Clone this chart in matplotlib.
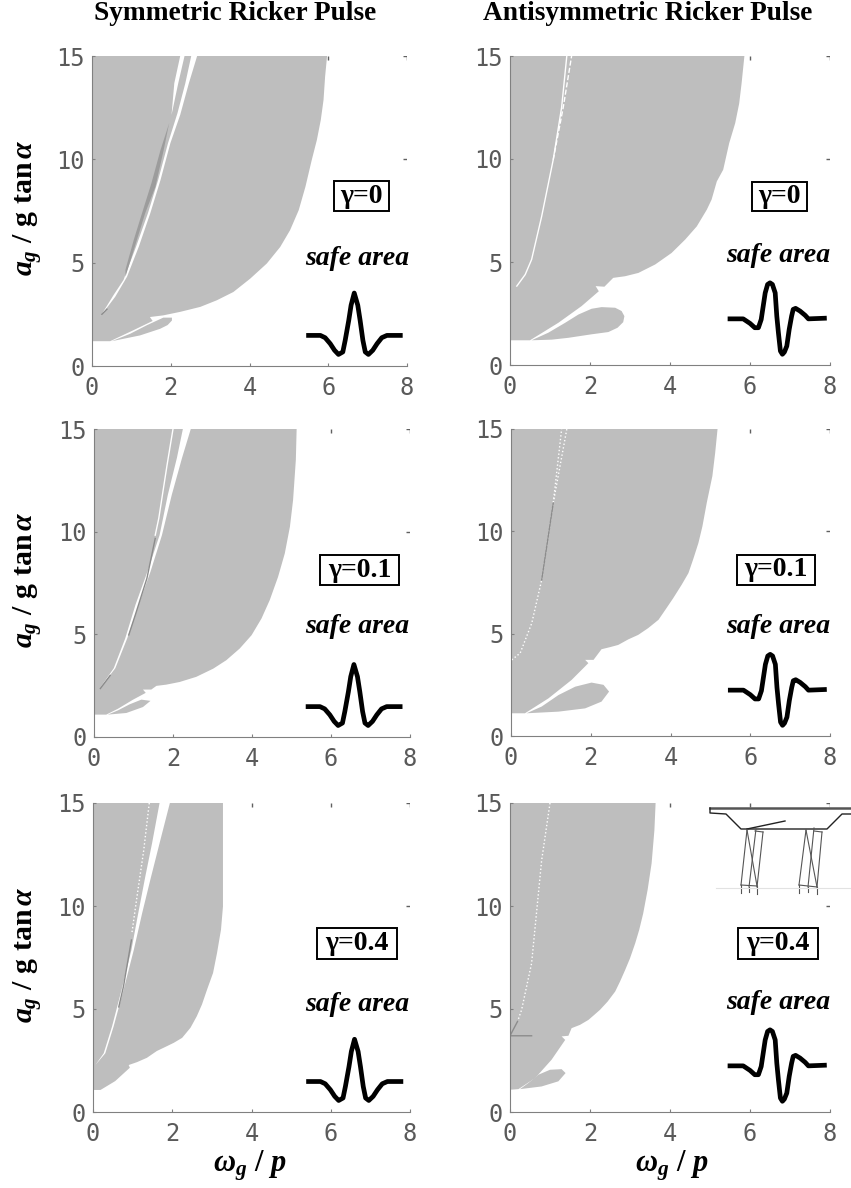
import matplotlib
matplotlib.use("Agg")
import matplotlib.pyplot as plt
from matplotlib.patches import Rectangle

plt.rcParams['mathtext.fontset'] = 'custom'
plt.rcParams['mathtext.it'] = 'Liberation Serif:italic:bold'
plt.rcParams['mathtext.bf'] = 'Liberation Serif:bold'
plt.rcParams['mathtext.rm'] = 'Liberation Serif:bold'

W, H = 851, 1188
GREY = '#bebebe'

x_ticks = [0, 2, 4, 6, 8]
y_ticks = [0, 5, 10, 15]
top_ticks = [2, 4, 6, 8]
right_ticks = [10, 15]

# contornos (omega_g/p, a_g/g tan alpha)
# simetrico, gamma=0
s0_x = [0, 5.97, 5.92, 5.88, 5.81, 5.71, 5.58, 5.42, 5.25, 5.03, 4.78, 4.44, 4.02, 3.59, 3.17, 2.75, 2.24, 1.81, 1.47, 1.54, 1.05, 0.46, 0]
s0_y = [15, 15, 14, 12.87, 11.9, 10.93, 9.96, 8.67, 7.54, 6.57, 5.76, 4.96, 4.23, 3.58, 3.18, 2.86, 2.62, 2.45, 2.37, 2.18, 1.73, 1.2, 1.2]
s0_lobe_x = [0.5, 1.22, 1.73, 1.92, 2.03, 2.03, 1.81, 1.39, 0.97]
s0_lobe_y = [1.2, 1.48, 1.8, 1.98, 2.2, 2.34, 2.34, 1.97, 1.56]
s0_gap_x = [2.67, 2.46, 2.24, 1.99, 1.74, 1.48, 1.19, 0.89, 0.59, 0.21, 0.55, 0.8, 1.12, 1.42, 1.68, 1.93, 2.17, 2.37, 2.52]
s0_gap_y = [15, 13.68, 12.15, 10.78, 9, 7.39, 5.78, 4.32, 3.35, 2.39, 3.44, 4.16, 5.78, 7.39, 9, 10.78, 12.23, 13.68, 15]
s0_gap2_x = [2.24, 2.35, 2.19, 2.02, 2.09]
s0_gap2_y = [15, 15, 13.68, 12.15, 13.68]
s0_dark_x = [1.96, 1.82, 1.61, 1.35, 1.14, 0.85, 0.85, 1.06, 1.27, 1.51, 1.74]
s0_dark_y = [11.75, 10.45, 8.67, 7.39, 6.1, 4.32, 4.66, 6.1, 7.39, 8.85, 10.45]
s0_dark2_x = [0.25, 0.38]
s0_dark2_y = [2.5, 2.75]

# antissimetrico, gamma=0
a0_x = [0, 5.86, 5.79, 5.73, 5.63, 5.48, 5.33, 5.17, 5.04, 4.92, 4.67, 4.38, 4.04, 3.63, 3.21, 2.88, 2.58, 2.36, 2.14, 2.22, 1.79, 1.21, 0.5, 0]
a0_y = [15, 15, 13.68, 12.7, 11.74, 10.77, 9.48, 8.91, 8.03, 7.54, 6.73, 6.09, 5.44, 4.88, 4.47, 4.31, 4.23, 3.8, 3.83, 3.58, 2.86, 2.05, 1.2, 1.2]
a0_lobe_x = [0.54, 1.04, 1.46, 2.04, 2.46, 2.69, 2.83, 2.86, 2.79, 2.63, 2.29, 2.04, 1.71, 1.38, 0.96]
a0_lobe_y = [1.2, 1.23, 1.32, 1.49, 1.6, 1.81, 2.08, 2.37, 2.62, 2.78, 2.81, 2.73, 2.45, 2.05, 1.57]
a0_line_x = [0.17, 0.38, 0.54, 0.79, 1.08, 1.29, 1.42]
a0_line_y = [3.83, 4.39, 5.12, 7.2, 9.96, 12.5, 15]
a0_line2_x = [1.08, 1.33, 1.54]
a0_line2_y = [9.96, 12.5, 15]

# simetrico, gamma=0.1
s1_x = [0, 5.13, 5.11, 5.04, 4.96, 4.83, 4.66, 4.45, 4.24, 3.99, 3.69, 3.35, 3.02, 2.59, 2.17, 1.83, 1.58, 1.45, 1.24, 1.31, 0.99, 0.61, 0.31, 0]
s1_y = [15, 15, 13.5, 11.54, 10.24, 8.94, 7.8, 6.67, 5.77, 4.96, 4.31, 3.74, 3.33, 2.93, 2.68, 2.55, 2.49, 2.31, 2.31, 2.15, 1.82, 1.38, 1.09, 1.09]
s1_lobe_x = [0.35, 0.82, 1.24, 1.43, 1.2, 0.9, 0.61]
s1_lobe_y = [1.09, 1.17, 1.46, 1.76, 1.82, 1.59, 1.3]
s1_gap_x = [2.45, 2.23, 1.97, 1.72, 1.43, 1.13, 0.84, 0.54, 0.12, 0.5, 0.79, 1.05, 1.38, 1.66, 1.87, 2.1, 2.25]
s1_gap_y = [15, 13.6, 11.8, 9.83, 8.05, 6.44, 4.8, 3.35, 2.3, 3.35, 4.8, 6.44, 8.2, 9.83, 11.8, 13.6, 15]
s1_line_x = [2.0, 1.85, 1.64, 1.55]
s1_line_y = [15, 13.25, 10.65, 9.83]
s1_dark_x = [1.55, 1.34, 1.05, 0.88]
s1_dark_y = [9.67, 7.73, 5.97, 4.97]
s1_dark2_x = [0.41, 0.16]
s1_dark2_y = [3.0, 2.36]

# antissimetrico, gamma=0.1
a1_x = [0, 5.18, 5.12, 5.05, 4.91, 4.8, 4.7, 4.57, 4.45, 4.28, 4.07, 3.9, 3.7, 3.44, 3.19, 2.94, 2.69, 2.48, 2.27, 2.07, 1.86, 1.94, 1.52, 0.94, 0.35, 0]
a1_y = [15, 15, 13.83, 12.7, 11.4, 10.24, 9.43, 8.64, 7.96, 7.39, 6.74, 6.25, 5.68, 5.27, 4.94, 4.72, 4.45, 4.34, 4.24, 3.72, 3.72, 3.56, 2.74, 1.84, 1.11, 1.11]
a1_lobe_x = [0.39, 1.19, 1.86, 2.27, 2.46, 2.32, 2.02, 1.61, 1.19, 0.77]
a1_lobe_y = [1.11, 1.19, 1.35, 1.68, 2.17, 2.5, 2.61, 2.41, 2.0, 1.44]
a1_line_x = [0.02, 0.23, 0.52, 0.77, 1.06, 1.27]
a1_line_y = [3.72, 4.05, 5.51, 7.63, 11.39, 15]
a1_line2_x = [1.06, 1.4]
a1_line2_y = [11.39, 15]
a1_dark_x = [0.77, 1.06]
a1_dark_y = [7.63, 11.39]

# simetrico, gamma=0.4
s4_x = [0, 3.28, 3.28, 3.23, 3.13, 3.03, 2.88, 2.75, 2.62, 2.46, 2.25, 2.04, 1.87, 1.61, 1.36, 1.11, 0.9, 0.93, 0.56, 0.19, 0]
s4_y = [15, 15, 9.98, 8.85, 7.72, 6.75, 5.95, 5.22, 4.65, 4.09, 3.6, 3.36, 3.2, 2.96, 2.63, 2.42, 2.28, 2.15, 1.5, 1.07, 1.07]
s4_gap_x = [1.94, 1.7, 1.45, 1.24, 1.03, 0.77, 0.52, 0.31, 0.06, 0.27, 0.48, 0.72, 0.97, 1.11, 1.32, 1.49, 1.68]
s4_gap_y = [15, 13.2, 11.3, 9.65, 7.87, 5.92, 4.15, 2.85, 2.28, 2.85, 4.15, 5.92, 7.87, 9.33, 11.43, 13.04, 15]
s4_line_x = [1.42, 1.28, 1.11, 0.98]
s4_line_y = [15, 12.7, 10.45, 8.67]
s4_dark_x = [0.97, 0.77, 0.65]
s4_dark_y = [8.35, 6.1, 5.1]

# antissimetrico, gamma=0.4
a4_x = [0, 3.64, 3.61, 3.54, 3.44, 3.33, 3.23, 3.13, 3.0, 2.88, 2.75, 2.63, 2.44, 2.25, 2.08, 1.96, 1.75, 1.54, 1.46, 1.29, 1.38, 1.04, 0.63, 0.21, 0]
a4_y = [15, 15, 13.68, 12.07, 10.78, 9.64, 8.84, 8.19, 7.46, 6.9, 6.33, 5.85, 5.36, 4.96, 4.67, 4.47, 4.23, 4.07, 3.7, 3.67, 3.5, 2.54, 1.65, 1.11, 1.08]
a4_lobe_x = [0.25, 0.79, 1.21, 1.39, 1.29, 1.0, 0.71, 0.46]
a4_lobe_y = [1.11, 1.24, 1.49, 1.89, 2.08, 2.05, 1.81, 1.41]
a4_line_x = [1.0, 0.79, 0.54, 0.29, 0.19]
a4_line_y = [15, 12.2, 7.22, 4.96, 4.4]
a4_dark_x = [0.54, 0, 0.19]
a4_dark_y = [3.7, 3.7, 4.4]

# pulsos
sym_pulse_x = [5.5, 5.8, 5.92, 6.05, 6.16, 6.26, 6.37, 6.43, 6.52, 6.58, 6.66, 6.75, 6.81, 6.88, 6.94, 7.02, 7.13, 7.24, 7.36, 7.49, 7.83]
sym_pulse_y = [1.48, 1.48, 1.37, 1.08, 0.76, 0.56, 0.68, 1.24, 2.2, 2.94, 3.53, 2.94, 2.2, 1.24, 0.68, 0.56, 0.76, 1.08, 1.37, 1.48, 1.48]
anti_pulse_x = [5.5, 5.83, 6.0, 6.12, 6.21, 6.28, 6.38, 6.44, 6.5, 6.56, 6.63, 6.67, 6.71, 6.76, 6.81, 6.86, 6.92, 6.98, 7.04, 7.08, 7.14, 7.25, 7.38, 7.46, 7.86]
anti_pulse_y = [2.24, 2.24, 2.02, 1.81, 1.81, 2.21, 3.5, 3.91, 3.99, 3.91, 3.5, 2.37, 1.57, 0.68, 0.52, 0.63, 0.92, 1.73, 2.37, 2.7, 2.75, 2.62, 2.41, 2.24, 2.27]

titles = ['Symmetric Ricker Pulse', 'Antisymmetric Ricker Pulse']
gamma_labels = ['γ=0', 'γ=0', 'γ=0.1', 'γ=0.1', 'γ=0.4', 'γ=0.4']

# desenho da ponte (px da figura)
deck_top_x = [710, 851]
deck_top_y = [808, 808]
deck_x = [710, 710, 726, 741, 827, 842, 851]
deck_y = [808, 813, 814, 829, 829, 814, 814]
lean_x = [747, 785]
lean_y = [829, 821]
bars_x = [[747, 741], [747, 757], [756, 749], [763, 757], [755, 763], [741, 757],
          [741, 741], [749, 749], [757, 757],
          [806, 799], [806, 817], [814, 808], [822, 817], [814, 822], [799, 817],
          [799, 799], [808, 808], [817, 817]]
bars_y = [[830, 885], [830, 886], [829, 887], [832, 887], [831, 832], [885, 886],
          [885, 893], [887, 892], [886, 894],
          [830, 885], [830, 887], [828, 887], [832, 887], [831, 832], [885, 887],
          [885, 893], [887, 892], [887, 894]]
ground_x = [716, 850]
ground_y = [888, 888]


def px_axes(left, right, top, bottom):
    return plt.gcf().add_axes([left / W, 1 - bottom / H, (right - left) / W, (bottom - top) / H])


fig = plt.figure(figsize=(W / 100, H / 100), dpi=100)

boxes = [(92, 407, 56, 366), (510, 830, 56, 365),
         (94, 410, 429, 737), (511, 830, 429, 736),
         (93, 410, 803, 1112), (510, 830, 803, 1112)]

outer = [(s0_x, s0_y), (a0_x, a0_y), (s1_x, s1_y), (a1_x, a1_y), (s4_x, s4_y), (a4_x, a4_y)]
lobes = [[(s0_lobe_x, s0_lobe_y)], [(a0_lobe_x, a0_lobe_y)], [(s1_lobe_x, s1_lobe_y)],
         [(a1_lobe_x, a1_lobe_y)], [], [(a4_lobe_x, a4_lobe_y)]]
gaps = [[(s0_gap_x, s0_gap_y), (s0_gap2_x, s0_gap2_y)], [], [(s1_gap_x, s1_gap_y)], [], [(s4_gap_x, s4_gap_y)], []]
darks = [[(s0_dark_x, s0_dark_y)], [], [], [], [], []]
white_lines = [[], [(a0_line_x, a0_line_y, '-'), (a0_line2_x, a0_line2_y, '--')],
               [(s1_line_x, s1_line_y, '-')],
               [(a1_line_x, a1_line_y, ':'), (a1_line2_x, a1_line2_y, ':')],
               [(s4_line_x, s4_line_y, ':')], [(a4_line_x, a4_line_y, ':')]]
dark_lines = [[(s0_dark2_x, s0_dark2_y)], [], [(s1_dark_x, s1_dark_y), (s1_dark2_x, s1_dark2_y)],
              [(a1_dark_x, a1_dark_y)], [(s4_dark_x, s4_dark_y)], [(a4_dark_x, a4_dark_y)]]

box_pos = [(6.83, 8.2), (6.74, 8.2), (6.72, 8.13), (6.65, 8.12), (6.66, 8.18), (6.7, 8.18)]
frame_px = [(334, 389, 181, 211), (752, 807, 182, 211),
            (320, 399, 555, 585), (737, 815, 555, 585),
            (317, 397, 928, 959), (738, 818, 928, 959)]
safe_pos = [(6.73, 5.2), (6.7, 5.3), (6.66, 5.36), (6.7, 5.35), (6.66, 5.24), (6.7, 5.3)]
pulse_shift = [0, 0, -0.08, 0, -0.06, 0]

for i, b in enumerate(boxes):
    ax = px_axes(*b)
    ax.set_xlim(0, 8)
    ax.set_ylim(0, 15)
    ax.fill(*outer[i], color=GREY, lw=0)
    for p in lobes[i]:
        ax.fill(*p, color=GREY, lw=0)
    for p in gaps[i]:
        ax.fill(*p, color='white', lw=0)
    for p in darks[i]:
        ax.fill(*p, color='#9c9c9c', lw=0)
    for lx, ly, ls in white_lines[i]:
        ax.plot(lx, ly, color='white', lw=1, ls=ls)
    for lx, ly in dark_lines[i]:
        ax.plot(lx, ly, color='#8c8c8c', lw=1)

    if i % 2 == 0:
        px_pulse, py_pulse = sym_pulse_x, sym_pulse_y
    else:
        px_pulse, py_pulse = anti_pulse_x, anti_pulse_y
    ax.plot([v + pulse_shift[i] for v in px_pulse], py_pulse, color='black', lw=3.4,
            solid_joinstyle='round', clip_on=False)

    ax.text(*box_pos[i], gamma_labels[i], ha='center', va='center', fontsize=20, fontweight='bold',
            family='Liberation Serif')
    ax.text(*safe_pos[i], 'safe area', ha='center', va='center', fontsize=20, fontweight='bold',
            style='italic', family='Liberation Serif')

    ax.spines['top'].set_visible(False)
    ax.spines['right'].set_visible(False)
    ax.spines['left'].set_color('#808080')
    ax.spines['bottom'].set_color('#808080')
    ax.set_xticks(x_ticks)
    ax.set_yticks(y_ticks)
    ax.tick_params(axis='x', direction='in', length=2, color='#808080', labelcolor='#5a5a5a',
                   labelsize=17, pad=7)
    ax.tick_params(axis='y', direction='in', length=2, color='#808080', labelcolor='#5a5a5a',
                   labelsize=17, pad=5)
    for lab in ax.get_xticklabels() + ax.get_yticklabels():
        lab.set_family('DejaVu Sans Mono')
    ax.vlines(top_ticks, 14.82, 15, color='#606060', lw=1, zorder=0.5)
    ax.hlines(right_ticks, 7.9, 8, color='#606060', lw=1, zorder=0.5)

for t, xc in zip(titles, [235, 648]):
    fig.text(xc / W, 1 - 14 / H, t, ha='center', va='center', fontsize=19.7, fontweight='bold',
             family='Liberation Serif')

for yc in [208, 580, 955]:
    fig.text(27 / W, 1 - yc / H, r'$a_g\ /\ \mathrm{g\ tan}\,\alpha$', rotation=90, ha='center', va='center',
             fontsize=21.5)
for xc in [250, 672]:
    fig.text(xc / W, 1 - 1166 / H, r'$\omega_g\ /\ p$', ha='center', va='center', fontsize=22)

# camada em px: molduras dos gamma e ponte do ultimo painel
over = fig.add_axes([0, 0, 1, 1])
over.set_xlim(0, W)
over.set_ylim(H, 0)
over.axis('off')
over.patch.set_alpha(0)
for x0, x1, y0, y1 in frame_px:
    over.add_patch(Rectangle((x0, y0), x1 - x0, y1 - y0, fc='none', ec='black', lw=1.4))
over.plot(deck_top_x, deck_top_y, color='#555555', lw=1.8)
over.plot(deck_x, deck_y, color='#222222', lw=1)
over.plot(lean_x, lean_y, color='#222222', lw=1)
for cx, cy in zip(bars_x, bars_y):
    over.plot(cx, cy, color='#555555', lw=0.8)
over.plot(ground_x, ground_y, color='#e2e2e2', lw=0.8)

fig.savefig('out.png', dpi=100)
